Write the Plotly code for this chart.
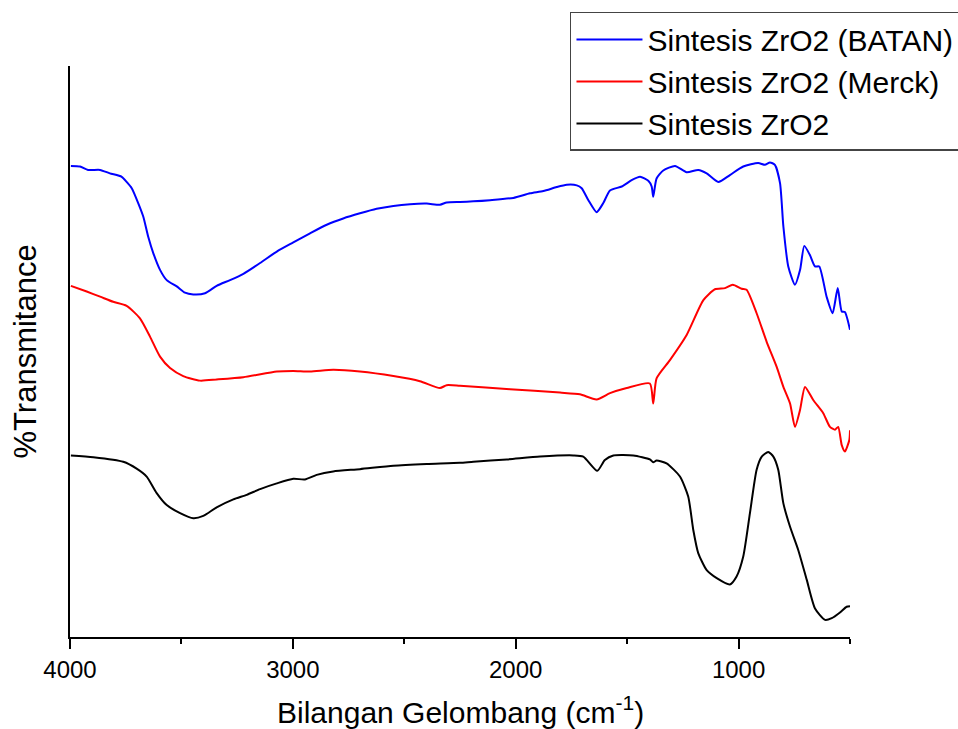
import plotly.graph_objects as go

# Wavenumber (cm-1) and %T (arbitrary offset units)
wn_batan = [3996, 3955, 3919, 3865, 3821, 3768, 3746, 3723, 3694, 3671, 3649, 3626, 3596, 3566,
            3521, 3484, 3447, 3394, 3342, 3282, 3222, 3147, 3072, 2998, 2923, 2848, 2774, 2699,
            2624, 2549, 2474, 2399, 2340, 2310, 2250, 2190, 2115, 2011, 1936, 1876, 1816, 1771,
            1726, 1704, 1674, 1637, 1607, 1577, 1524, 1480, 1442, 1405, 1390, 1383, 1368, 1338,
            1285, 1233, 1181, 1143, 1091, 1039, 979, 912, 882, 859, 837, 814, 799, 777, 747,
            724, 705, 680, 657, 638, 605, 578, 555, 537, 523, 500]
t_batan = [82.5, 82.4, 81.8, 81.8, 81.2, 80.6, 79.7, 78.6, 76.0, 73.6, 70.1, 67.2, 64.3, 62.5,
           61.4, 60.3, 60.0, 60.2, 61.5, 62.5, 63.6, 65.5, 67.5, 69.1, 70.7, 72.2, 73.3, 74.2,
           75.0, 75.5, 75.8, 75.9, 75.7, 76.1, 76.2, 76.3, 76.5, 76.9, 77.7, 78.1, 78.8, 79.2,
           79.1, 78.6, 76.5, 74.4, 76.0, 78.2, 78.9, 80.0, 80.6, 79.9, 78.9, 77.1, 80.3, 81.7,
           82.5, 81.4, 81.8, 81.2, 79.7, 80.9, 82.4, 83.0, 82.7, 83.1, 82.7, 79.5, 71.9, 64.9, 61.7,
           64.3, 68.5, 66.9, 64.9, 64.9, 59.6, 56.7, 61.1, 57.0, 56.9, 53.8]

wn_merck = [3996, 3925, 3865, 3806, 3746, 3686, 3641, 3596, 3551, 3492, 3417, 3342, 3222, 3072,
            2998, 2923, 2819, 2699, 2549, 2430, 2340, 2310, 2250, 2026, 1801, 1712, 1637, 1577,
            1502, 1398, 1383, 1368, 1308, 1233, 1158, 1106, 1061, 1026, 986, 964, 919, 874, 829,
            799, 769, 747, 724, 702, 665, 620, 590, 567, 553, 537, 523, 503, 500]
t_merck = [61.5, 60.5, 59.6, 58.7, 58.0, 55.8, 52.6, 49.1, 47.1, 45.7, 44.9, 45.1, 45.5, 46.5,
           46.6, 46.5, 46.8, 46.5, 45.7, 44.8, 43.6, 44.1, 44.0, 43.4, 42.8, 42.5, 41.6, 42.7,
           43.6, 44.4, 40.9, 45.3, 48.5, 52.9, 59.0, 60.9, 61.1, 61.7, 61.0, 60.8, 56.7, 51.7, 47.3,
           43.8, 40.9, 36.8, 39.8, 43.8, 41.5, 39.2, 36.8, 36.3, 36.8, 33.6, 32.5, 34.5, 36.2]

wn_zro2 = [3996, 3895, 3761, 3701, 3656, 3611, 3566, 3506, 3447, 3402, 3342, 3267, 3207, 3147,
           3072, 2998, 2946, 2893, 2819, 2699, 2549, 2399, 2250, 2190, 2040, 1891, 1742, 1697,
           1634, 1600, 1562, 1472, 1398, 1383, 1368, 1323, 1263, 1226, 1203, 1181, 1143, 1098,
           1039, 1009, 979, 949, 919, 896, 867, 844, 822, 799, 769, 732, 694, 657, 612, 582,
           545, 515, 500]
t_zro2 = [31.8, 31.5, 30.7, 29.5, 28.1, 25.2, 23.1, 21.7, 20.8, 21.2, 22.7, 24.1, 24.9, 25.9,
          26.9, 27.7, 27.6, 28.4, 29.0, 29.4, 30.0, 30.3, 30.5, 30.7, 31.1, 31.6, 31.8, 31.6,
          29.1, 31.0, 31.8, 31.8, 31.1, 30.6, 30.9, 30.4, 28.1, 24.6, 18.7, 14.7, 11.7, 10.3,
          9.2, 10.6, 14.1, 21.7, 29.3, 31.6, 32.4, 31.6, 29.3, 23.4, 19.3, 15.2, 10.0, 5.0, 3.0, 3.3,
          4.3, 5.3, 5.4]

names = ["Sintesis ZrO2 (BATAN)", "Sintesis ZrO2 (Merck)", "Sintesis ZrO2"]
colors = ["#0000FF", "#FF0000", "#000000"]

FONT = "Liberation Sans, Arial, sans-serif"

fig = go.Figure()
for wn, t, name, c in zip([wn_batan, wn_merck, wn_zro2], [t_batan, t_merck, t_zro2], names, colors):
    fig.add_trace(go.Scatter(x=wn, y=t, mode="lines", name=name,
                             line=dict(color=c, width=2, shape="spline", smoothing=0.6)))

fig.update_layout(
    width=958, height=729,
    margin=dict(l=70, r=108, t=66, b=92, autoexpand=False),
    paper_bgcolor="white", plot_bgcolor="white",
    font=dict(family=FONT, color="black"),
    showlegend=True,
    legend=dict(x=0.641, y=1.0946, xanchor="left", yanchor="top",
                font=dict(size=30, family=FONT, color="black"),
                bordercolor="#444444", borderwidth=1.5, bgcolor="white",
                tracegroupgap=0, itemwidth=66),
    xaxis=dict(range=[4000, 500], showgrid=False, zeroline=False,
               showline=True, linecolor="black", linewidth=2,
               ticks="outside", ticklen=10, tickwidth=2, tickcolor="black",
               tickvals=[4000, 3000, 2000, 1000],
               tickfont=dict(size=24, family=FONT, color="black"),
               minor=dict(tickvals=[3500, 2500, 1500, 500], ticks="outside",
                          ticklen=5, tickwidth=2, tickcolor="black", showgrid=False)),
    yaxis=dict(range=[0, 100], showgrid=False, zeroline=False,
               showline=True, linecolor="black", linewidth=2,
               showticklabels=False, ticks=""),
    annotations=[
        dict(text="Bilangan Gelombang (cm<sup>-1</sup>)", xref="paper", yref="paper",
             x=0.5, y=0, xanchor="center", yanchor="middle", yshift=-73,
             showarrow=False, font=dict(size=30, family=FONT, color="black")),
        dict(text="%Transmitance", xref="paper", yref="paper", textangle=-90,
             x=0, y=0.5, xanchor="center", yanchor="middle", xshift=-45,
             showarrow=False, font=dict(size=31, family=FONT, color="black")),
    ],
)

fig.write_html("out.html", config={"displayModeBar": False},
               post_script="document.body.style.margin='0';document.body.style.padding='0';")
